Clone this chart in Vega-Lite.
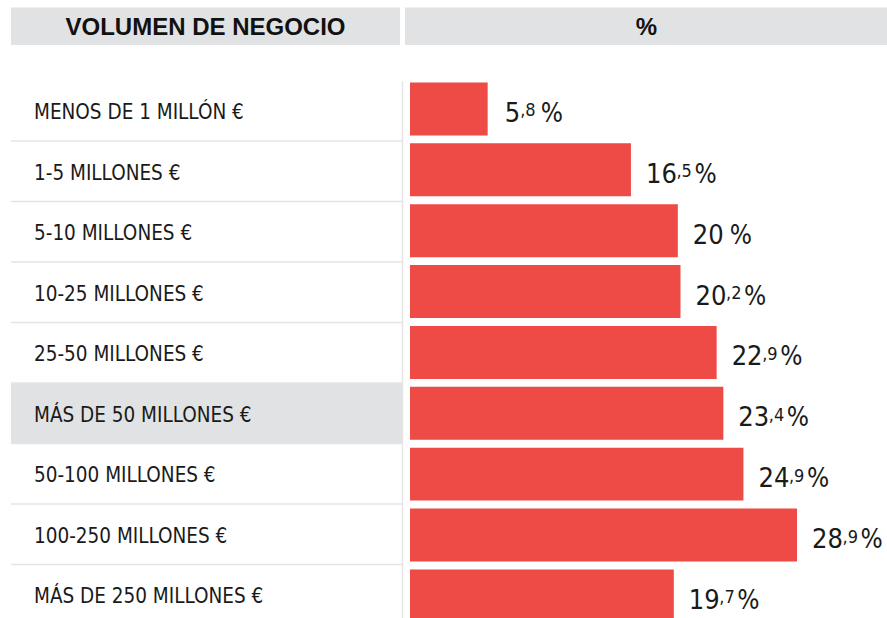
{
  "$schema": "https://vega.github.io/schema/vega-lite/v6.json",
  "padding": {"left": 10, "top": 7.5, "right": 0, "bottom": 0},
  "background": "white",
  "spacing": 35,
  "config": {"view": {"stroke": null}},
  "datasets": {
    "rows": [
      {"cat": "MENOS DE 1 MILLÓN €", "v": 5.8},
      {"cat": "1-5 MILLONES €", "v": 16.5},
      {"cat": "5-10 MILLONES €", "v": 20},
      {"cat": "10-25 MILLONES €", "v": 20.2},
      {"cat": "25-50 MILLONES €", "v": 22.9},
      {"cat": "MÁS DE 50 MILLONES €", "v": 23.4},
      {"cat": "50-100 MILLONES €", "v": 24.9},
      {"cat": "100-250 MILLONES €", "v": 28.9},
      {"cat": "MÁS DE 250 MILLONES €", "v": 19.7}
    ]
  },
  "vconcat": [
    {
      "hconcat": [
        {
          "width": 389,
          "height": 37.5,
          "view": {"fill": "#e1e2e3", "stroke": null},
          "data": {"values": [{"h": "VOLUMEN DE NEGOCIO"}]},
          "mark": {"type": "text", "font": "Liberation Sans, Arial, sans-serif", "fontWeight": "bold", "fontSize": 24, "baseline": "alphabetic", "dy": 8.6, "color": "#111111"},
          "encoding": {"text": {"field": "h"}}
        },
        {
          "width": 483,
          "height": 37.5,
          "view": {"fill": "#e1e2e3", "stroke": null},
          "data": {"values": [{"h": "%"}]},
          "mark": {"type": "text", "font": "Liberation Sans, Arial, sans-serif", "fontWeight": "bold", "fontSize": 24, "baseline": "alphabetic", "dy": 8.6, "color": "#111111"},
          "encoding": {"text": {"field": "h"}}
        }
      ],
      "spacing": 5,
      "bounds": "flush"
    },
    {
      "hconcat": [
        {
          "width": 391,
          "height": 544.5,
          "data": {"name": "rows"},
          "encoding": {
            "y": {
              "field": "cat",
              "type": "nominal",
              "scale": {
                "domain": ["MENOS DE 1 MILLÓN €", "1-5 MILLONES €", "5-10 MILLONES €", "10-25 MILLONES €", "25-50 MILLONES €", "MÁS DE 50 MILLONES €", "50-100 MILLONES €", "100-250 MILLONES €", "MÁS DE 250 MILLONES €"],
                "paddingInner": 0,
                "paddingOuter": 0
              },
              "axis": {
                "orient": "left",
                "title": null,
                "domain": false,
                "ticks": false,
                "grid": false,
                "labelAlign": "left",
                "labelPadding": -22.5,
                "labelBaseline": "alphabetic",
                "labelOffset": 8.6,
                "labelFont": "DejaVu Sans Condensed, sans-serif",
                "labelFontSize": 20.5,
                "labelColor": "#1a1a1a",
                "labelLimit": 400,
                "zindex": 1
              }
            }
          },
          "layer": [
            {
              "transform": [{"filter": "datum.cat === 'MÁS DE 50 MILLONES €'"}],
              "mark": {"type": "rect", "color": "#e1e2e3"}
            },
            {
              "mark": {"type": "rule", "color": "#e4e4e4", "strokeWidth": 1.5},
              "encoding": {"y": {"field": "cat", "type": "nominal", "bandPosition": 1}}
            }
          ]
        },
        {
          "width": 486,
          "height": 547.8,
          "data": {"name": "rows"},
          "transform": [
            {"calculate": "floor(datum.v)", "as": "ent"},
            {"calculate": "datum.v % 1 ? ',' + round((datum.v * 10) % 10) : ''", "as": "dec"}
          ],
          "encoding": {
            "y": {
              "field": "cat",
              "type": "nominal",
              "scale": {
                "domain": ["MENOS DE 1 MILLÓN €", "1-5 MILLONES €", "5-10 MILLONES €", "10-25 MILLONES €", "25-50 MILLONES €", "MÁS DE 50 MILLONES €", "50-100 MILLONES €", "100-250 MILLONES €", "MÁS DE 250 MILLONES €"],
                "paddingInner": 0.13,
                "paddingOuter": 0.065
              },
              "axis": {"orient": "left", "title": null, "labels": false, "ticks": false, "grid": false, "domain": true, "domainColor": "#e6e6e6", "domainWidth": 1.5}
            },
            "x": {
              "field": "v",
              "type": "quantitative",
              "scale": {"domain": [0, 28.9], "range": [8, 395], "nice": false, "zero": true},
              "axis": null
            }
          },
          "layer": [
            {"mark": {"type": "bar", "color": "#ee4a46", "yOffset": -2}},
            {
              "transform": [{"filter": "datum.v >= 10"}],
              "mark": {"type": "text", "align": "left", "baseline": "alphabetic", "dx": 15, "dy": 11, "font": "DejaVu Sans Condensed, sans-serif", "fontSize": 27, "color": "#1a1a1a"},
              "encoding": {"text": {"field": "ent"}}
            },
            {
              "transform": [{"filter": "datum.v < 10"}],
              "mark": {"type": "text", "align": "left", "baseline": "alphabetic", "dx": 17, "dy": 11, "font": "DejaVu Sans Condensed, sans-serif", "fontSize": 27, "color": "#1a1a1a"},
              "encoding": {"text": {"field": "ent"}}
            },
            {
              "transform": [{"filter": "datum.v >= 10 && datum.dec != ''"}],
              "mark": {"type": "text", "align": "left", "baseline": "alphabetic", "dx": 45.5, "dy": 5.5, "font": "DejaVu Sans Condensed, sans-serif", "fontSize": 18, "color": "#1a1a1a"},
              "encoding": {"text": {"field": "dec"}}
            },
            {
              "transform": [{"filter": "datum.v < 10"}],
              "mark": {"type": "text", "align": "left", "baseline": "alphabetic", "dx": 32.5, "dy": 5.5, "font": "DejaVu Sans Condensed, sans-serif", "fontSize": 18, "color": "#1a1a1a"},
              "encoding": {"text": {"field": "dec"}}
            },
            {
              "transform": [{"filter": "datum.v >= 10 && datum.dec != ''"}],
              "mark": {"type": "text", "align": "left", "baseline": "alphabetic", "dx": 63.5, "dy": 11, "font": "DejaVu Sans Condensed, sans-serif", "fontSize": 26, "color": "#1a1a1a", "text": "%"},
              "encoding": {}
            },
            {
              "transform": [{"filter": "datum.v < 10"}],
              "mark": {"type": "text", "align": "left", "baseline": "alphabetic", "dx": 53, "dy": 11, "font": "DejaVu Sans Condensed, sans-serif", "fontSize": 26, "color": "#1a1a1a", "text": "%"},
              "encoding": {}
            },
            {
              "transform": [{"filter": "datum.dec == ''"}],
              "mark": {"type": "text", "align": "left", "baseline": "alphabetic", "dx": 52, "dy": 11, "font": "DejaVu Sans Condensed, sans-serif", "fontSize": 26, "color": "#1a1a1a", "text": "%"},
              "encoding": {}
            }
          ]
        }
      ],
      "spacing": 0,
      "bounds": "flush"
    }
  ]
}
